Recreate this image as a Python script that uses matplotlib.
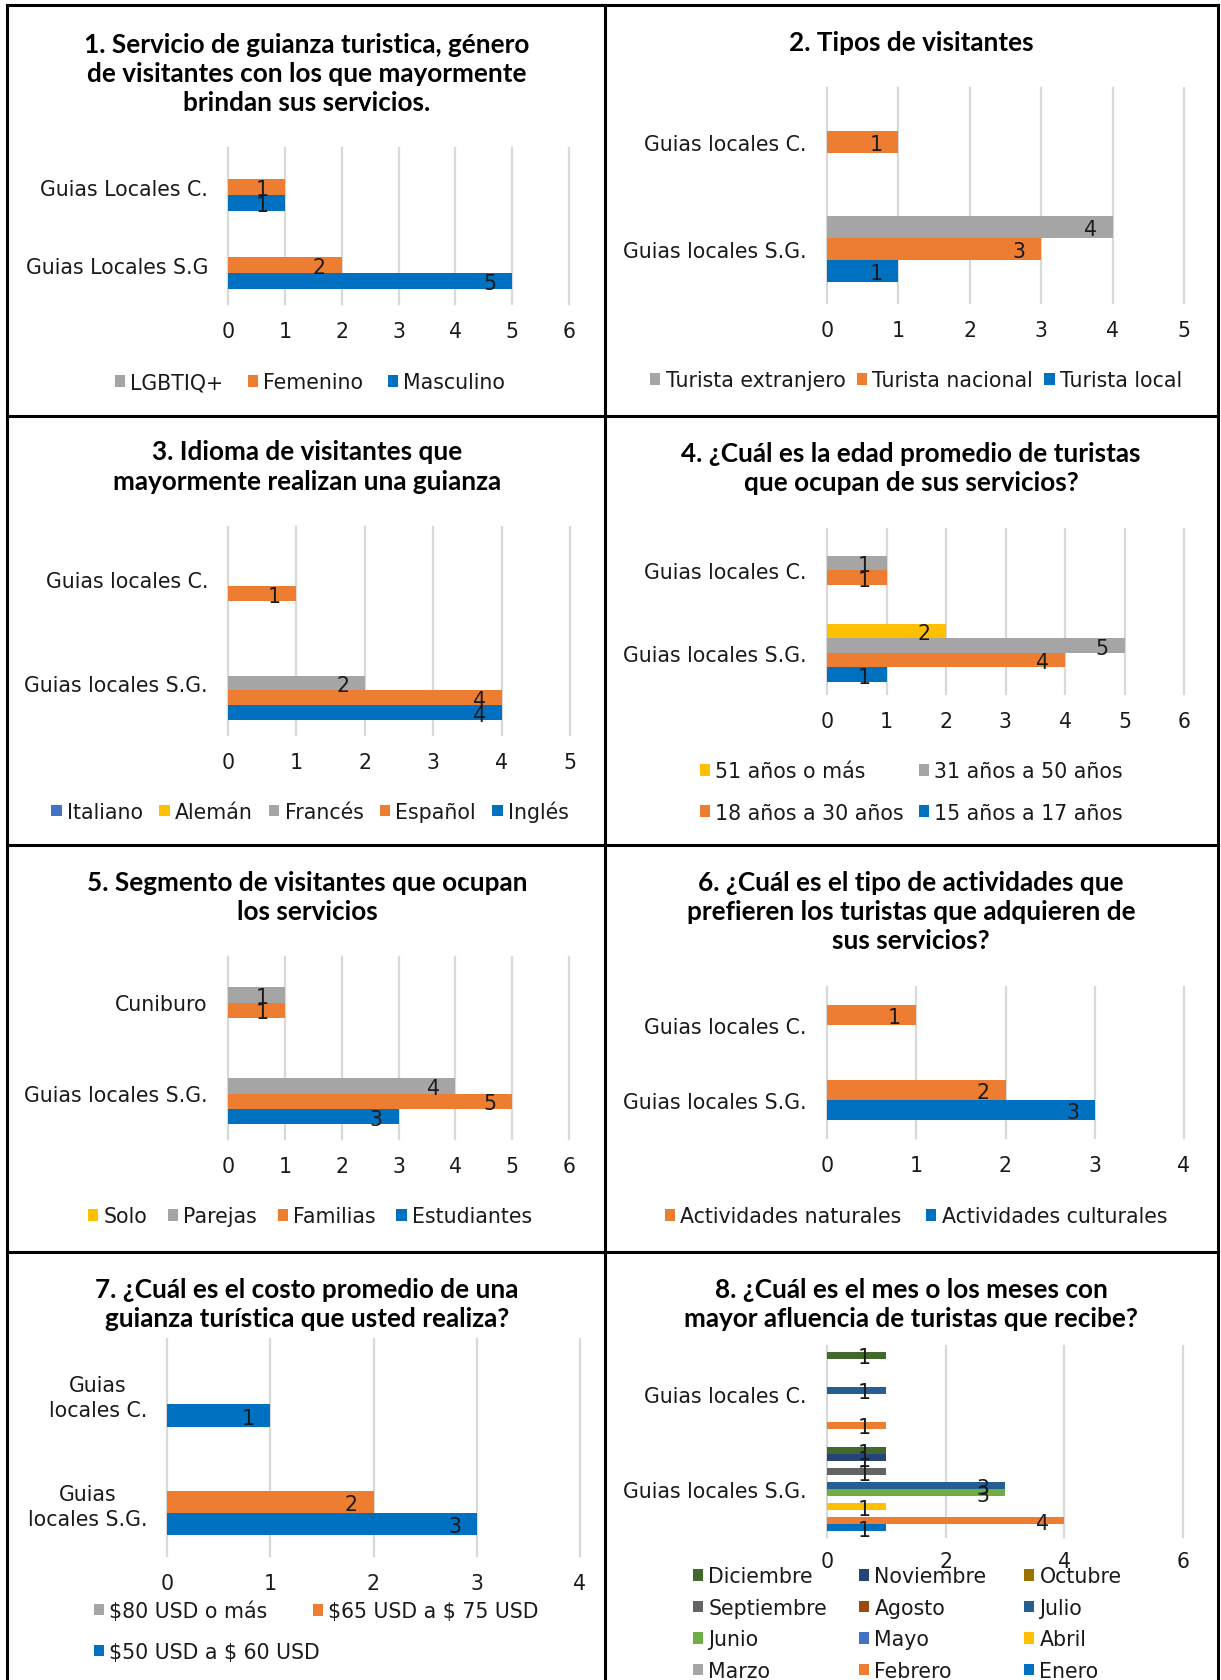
import numpy as np
import matplotlib
matplotlib.use('Agg')
import matplotlib.pyplot as plt
from matplotlib.patches import Patch
from matplotlib.lines import Line2D

# ---------------- data ----------------
# Panel 1
cats1 = ['Guias Locales S.G', 'Guias Locales C.']
series1 = ['Masculino', 'Femenino', 'LGBTIQ+']
masculino1 = [5, 1]
femenino1 = [2, 1]
lgbtiq1 = [None, None]

# Panel 2
cats2 = ['Guias locales S.G.', 'Guias locales C.']
series2 = ['Turista local', 'Turista nacional', 'Turista extranjero']
local2 = [1, None]
nacional2 = [3, 1]
extranjero2 = [4, None]

# Panel 3
cats3 = ['Guias locales S.G.', 'Guias locales C.']
series3 = ['Inglés', 'Español', 'Francés', 'Alemán', 'Italiano']
ingles3 = [4, None]
espanol3 = [4, 1]
frances3 = [2, None]
aleman3 = [None, None]
italiano3 = [None, None]

# Panel 4
cats4 = ['Guias locales S.G.', 'Guias locales C.']
series4 = ['15 años a 17 años', '18 años a 30 años', '31 años a 50 años', '51 años o más']
edad15_17 = [1, None]
edad18_30 = [4, 1]
edad31_50 = [5, 1]
edad51 = [2, None]

# Panel 5
cats5 = ['Guias locales S.G.', 'Cuniburo']
series5 = ['Estudiantes', 'Familias', 'Parejas', 'Solo']
estudiantes5 = [3, None]
familias5 = [5, 1]
parejas5 = [4, 1]
solo5 = [None, None]

# Panel 6
cats6 = ['Guias locales S.G.', 'Guias locales C.']
series6 = ['Actividades culturales', 'Actividades naturales']
culturales6 = [3, None]
naturales6 = [2, 1]

# Panel 7
cats7 = ['Guias\nlocales S.G.', 'Guias\nlocales C.']
series7 = ['$50 USD a $ 60 USD', '$65 USD a $ 75 USD', '$80 USD o más']
usd50_7 = [3, 1]
usd65_7 = [2, None]
usd80_7 = [None, None]

# Panel 8
cats8 = ['Guias locales S.G.', 'Guias locales C.']
months8 = ['Enero', 'Febrero', 'Marzo', 'Abril', 'Mayo', 'Junio', 'Julio',
           'Agosto', 'Septiembre', 'Octubre', 'Noviembre', 'Diciembre']
sg8 = [1, 4, None, 1, None, 3, 3, None, 1, None, 1, 1]
c8 = [None, 1, None, None, None, None, 1, None, None, None, None, 1]

# ---------------- style ----------------
BLUE = '#0070C0'; ORANGE = '#ED7D31'; GREY = '#A5A5A5'; YELLOW = '#FFC000'
MAYO = '#4472C4'; GREEN = '#70AD47'; JULIO = '#255E91'; AGOSTO = '#9E480E'
SEPT = '#636363'; OCT = '#997300'; NOV = '#264478'; DIC = '#43682B'
month_colors = [BLUE, ORANGE, GREY, YELLOW, MAYO, GREEN, JULIO, AGOSTO, SEPT, OCT, NOV, DIC]

W, H, DPI = 1221, 1681, 100
plt.rcParams['font.family'] = ['DejaVu Sans']
FS = 14.8
FT = 18.8
TXT = '#1a1a1a'

fig = plt.figure(figsize=(W / DPI, H / DPI), dpi=DPI)
fig.patch.set_facecolor('white')


def esc(s):
    return s.replace('$', r'\$')


def panel(box, cats, svals, colors, barh, xmax, xstep, xpad=12.0):
    x0, x1, y0, y1 = box
    ax = fig.add_axes([x0 / W, 1 - y1 / H, (x1 - x0) / W, (y1 - y0) / H])
    n = len(svals)
    pos = np.arange(len(cats))
    for i, (vals, col) in enumerate(zip(svals, colors)):
        yy = pos + (i - (n - 1) / 2) * barh
        v = np.array([np.nan if x is None else x for x in vals], float)
        ax.barh(yy, v, height=barh, color=col, linewidth=0, zorder=2)
        for y, x in zip(yy, vals):
            if x is not None:
                ax.annotate(f'{x}', (x, y), xytext=(-16, -1.5), textcoords='offset points',
                            ha='center', va='center', fontsize=FS, color=TXT, zorder=4)
    ax.set_ylim(-0.5, len(cats) - 0.5)
    ax.set_xlim(0, xmax)
    ax.set_xticks(np.arange(0, xmax + 1e-9, xstep))
    ax.set_yticks(pos)
    ax.set_yticklabels([esc(c) for c in cats])
    ax.xaxis.grid(True, color='#D9D9D9', linewidth=1.6)
    ax.set_axisbelow(True)
    for gl in ax.get_xgridlines():
        gl.set_clip_on(False)
    for s in ax.spines.values():
        s.set_visible(False)
    ax.tick_params(axis='x', length=0, labelsize=FS, labelcolor=TXT, pad=xpad)
    ax.tick_params(axis='y', length=0, labelsize=FS, labelcolor=TXT, pad=14.4)
    ax.set_facecolor('none')
    return ax


def title(lines, ys, cx):
    for t, y in zip(lines, ys):
        fig.text(cx / W, 1 - y / H, t, ha='center', va='center', fontsize=FT,
                 fontweight='bold', family=['Lato', 'DejaVu Sans'], color='#000000')


LEGKW = dict(frameon=False, fontsize=FS, handlelength=0.5, handleheight=0.5,
             handletextpad=0.25, borderpad=0, borderaxespad=0, labelcolor=TXT)


def row_legend(labels, colors, cx, cy, colsp=1.2):
    hs = [Patch(facecolor=c, edgecolor='none') for c in colors]
    fig.legend(hs, [esc(l) for l in labels], loc='center', bbox_to_anchor=(cx / W, 1 - cy / H),
               ncol=len(labels), columnspacing=colsp, **LEGKW)


def grid_legend(labels, colors, ncol, col_x, row_ys, ls):
    for j in range(ncol):
        sl = labels[j::ncol]
        sc = colors[j::ncol]
        ys = row_ys[:len(sl)]
        cy = (ys[0] + ys[-1]) / 2
        hs = [Patch(facecolor=c, edgecolor='none') for c in sc]
        fig.legend(hs, [esc(l) for l in sl], loc='center left',
                   bbox_to_anchor=(col_x[j] / W, 1 - cy / H), ncol=1, labelspacing=ls, **LEGKW)


# ---------- Panel 1 ----------
panel((228, 569, 149, 305), cats1, [masculino1, femenino1, lgbtiq1], [BLUE, ORANGE, GREY], 0.205, 6, 1)
title(['1. Servicio de guianza turistica, género', 'de visitantes con los que mayormente',
       'brindan sus servicios.'], [45, 74, 103], 307)
row_legend(series1[::-1], [GREY, ORANGE, BLUE], 310, 383)

# ---------- Panel 2 ----------
panel((827, 1184, 89, 304), cats2, [local2, nacional2, extranjero2], [BLUE, ORANGE, GREY], 0.206, 5, 1)
title(['2. Tipos de visitantes'], [43], 911)
row_legend(series2[::-1], [GREY, ORANGE, BLUE], 916, 381, 0.55)

# ---------- Panel 3 ----------
panel((228, 570, 528, 736), cats3, [ingles3, espanol3, frances3, aleman3, italiano3],
      [BLUE, ORANGE, GREY, YELLOW, MAYO], 0.144, 5, 1)
title(['3. Idioma de visitantes que', 'mayormente realizan una guianza'], [452, 482], 307)
row_legend(series3[::-1], [MAYO, YELLOW, GREY, ORANGE, BLUE], 310, 812, 0.8)

# ---------- Panel 4 ----------
panel((827, 1184, 530, 695), cats4, [edad15_17, edad18_30, edad31_50, edad51],
      [BLUE, ORANGE, GREY, YELLOW], 0.176, 6, 1)
title(['4. ¿Cuál es la edad promedio de turistas', 'que ocupan de sus servicios?'], [454, 483], 911)
grid_legend(series4[::-1], [YELLOW, GREY, ORANGE, BLUE], 2, [700, 919], [773, 813], 1.03)

# ---------- Panel 5 ----------
panel((228, 569, 958, 1140), cats5, [estudiantes5, familias5, parejas5, solo5],
      [BLUE, ORANGE, GREY, YELLOW], 0.17, 6, 1)
title(['5. Segmento de visitantes que ocupan', 'los servicios'], [883, 912], 307)
row_legend(series5[::-1], [YELLOW, GREY, ORANGE, BLUE], 310, 1217, 1.0)

# ---------- Panel 6 ----------
panel((827, 1184, 988, 1139), cats6, [culturales6, naturales6], [BLUE, ORANGE], 0.265, 4, 1)
title(['6. ¿Cuál es el tipo de actividades que', 'prefieren los turistas que adquieren de',
       'sus servicios?'], [883, 912, 941], 911)
row_legend(series6[::-1], [ORANGE, BLUE], 916, 1217)

# ---------- Panel 7 ----------
ax7 = panel((167, 580, 1340, 1557), cats7, [usd50_7, usd65_7, usd80_7], [BLUE, ORANGE, GREY], 0.207, 4, 1)
for lb in ax7.get_yticklabels():
    lb.set_multialignment('center')
    lb.set_linespacing(1.3)
title(['7. ¿Cuál es el costo promedio de una', 'guianza turística que usted realiza?'], [1290, 1319], 307)
grid_legend(series7[::-1], [GREY, ORANGE, BLUE], 2, [94, 313], [1612, 1652], 1.03)

# ---------- Panel 8 ----------
svals8 = [[sg8[i], c8[i]] for i in range(len(months8))]
panel((827, 1183, 1347, 1538), cats8, svals8, month_colors, 0.0733, 6, 2, xpad=10.0)
title(['8. ¿Cuál es el mes o los meses con', 'mayor afluencia de turistas que recibe?'], [1290, 1319], 911)
grid_legend(months8[::-1], month_colors[::-1], 3, [693, 859, 1024], [1578, 1609, 1640, 1671], 0.56)

# ---------- panel borders ----------
def fline(xs, ys):
    fig.add_artist(Line2D([x / W for x in xs], [1 - y / H for y in ys], color='black',
                          linewidth=2.2, solid_capstyle='projecting', transform=fig.transFigure))

for xv in (7, 604.5, 1218):
    fline([xv, xv], [6, H + 5])
for yv in (6, 417, 846, 1253):
    fline([7, 1218], [yv, yv])

fig.savefig('out.png', dpi=DPI, facecolor='white')
